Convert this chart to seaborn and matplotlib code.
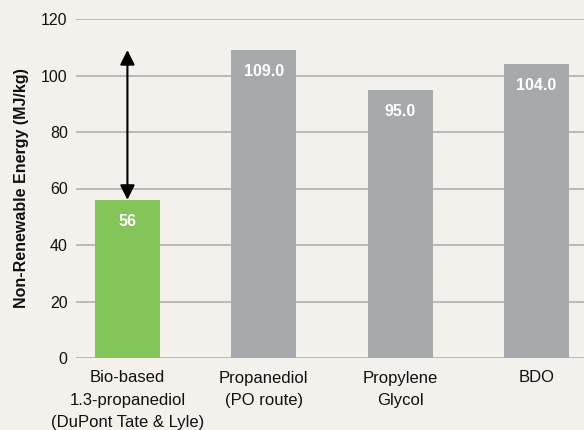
import matplotlib
matplotlib.use('Agg')
import matplotlib.pyplot as plt
import seaborn as sns
import pandas as pd

# 数据
categories = ['Bio-based\n1.3-propanediol\n(DuPont Tate & Lyle)',
              'Propanediol\n(PO route)', 'Propylene\nGlycol', 'BDO']
values = [56, 109.0, 95.0, 104.0]
value_labels = ['56', '109.0', '95.0', '104.0']
bar_colors = ['#84C55A', '#A6AAAD', '#A6AAAD', '#A6AAAD']
y_ticks = [0, 20, 40, 60, 80, 100, 120]

sns.set_theme(style='white')
plt.rcParams['font.family'] = ['Liberation Sans', 'DejaVu Sans']
bg = '#F4F1ED'

df = pd.DataFrame({'cat': categories, 'val': values})

fig = plt.figure(figsize=(5.84, 4.30), dpi=100, facecolor=bg)
ax = fig.add_axes([76/584, 1 - 358/430, 1 - 76/584, 339/430])
ax.set_facecolor(bg)

# 网格线
for t in y_ticks:
    ax.axhline(t, color='#B3B5B7', lw=1.3, zorder=0)

sns.barplot(data=df, x='cat', y='val', hue='cat', palette=bar_colors,
            width=0.476, legend=False, ax=ax, saturation=1, linewidth=0)
for p in ax.patches:
    p.set_zorder(2)

for i, (v, lab) in enumerate(zip(values, value_labels)):
    ax.annotate(lab, (i, v), xytext=(0, -15.5), textcoords='offset points',
                ha='center', va='center', color='white', fontsize=11.5,
                fontweight='bold', zorder=3)

# 双向箭头
ax.annotate('', xy=(0, 109), xytext=(0, 56),
            arrowprops=dict(arrowstyle='<|-|>', color='black', lw=1.5,
                            mutation_scale=22, shrinkA=0, shrinkB=0),
            zorder=4)

ax.set_ylim(0, 120)
ax.set_xlim(-0.377, 3.348)
ax.set_yticks(y_ticks)
ax.set_yticklabels([str(t) for t in y_ticks], fontsize=11.5, color='#111111')
ax.tick_params(axis='y', length=0, pad=6)
ax.set_xticks(range(len(categories)))
ax.set_xticklabels(categories, fontsize=12, color='#111111', linespacing=1.6)
ax.tick_params(axis='x', length=0, pad=9)
ax.set_xlabel('')
ax.set_ylabel('Non-Renewable Energy (MJ/kg)', fontsize=11.5,
              fontweight='bold', labelpad=9, color='#111111')
for s in ax.spines.values():
    s.set_visible(False)

fig.savefig('out.png', dpi=100, facecolor=bg)
